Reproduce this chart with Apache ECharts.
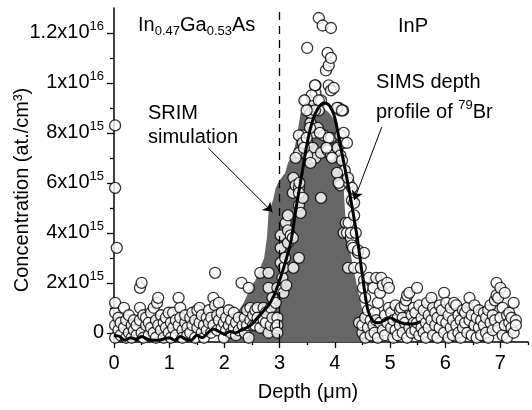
<!DOCTYPE html>
<html><head><meta charset="utf-8">
<script src="https://cdn.jsdelivr.net/npm/echarts@6/dist/echarts.min.js"></script>
<style>html,body{margin:0;padding:0;background:#fff}#c{width:532px;height:410px}</style>
</head><body><div id="c"></div>
<script>
// values in units of 1e15 at./cm3, depth in micrometres
const xTicks = [0, 1, 2, 3, 4, 5, 6, 7];
const xMinorTicks = [0.5, 1.5, 2.5, 3.5, 4.5, 5.5, 6.5, 7.5];
const yTicks = [0, 2, 4, 6, 8, 10, 12];
const yTickMantissa = ['0', '2x10', '4x10', '6x10', '8x10', '1x10', '1.2x10'];
const yTickExponent = ['', '15', '15', '15', '15', '16', '16'];
const yMinorTicks = [1, 3, 5, 7, 9, 11];
const interfaceDepth = 3;

const srimCurve = [[2.0,-0.37],[2.05,0.2],[2.15,0.5],[2.23,0.8],[2.35,1.2],[2.47,1.8],[2.56,2.1],[2.65,2.6],[2.72,3.0],[2.77,3.8],[2.8,4.8],[2.88,5.3],[2.93,5.8],[3.0,6.1],[3.1,6.4],[3.15,6.8],[3.25,7.2],[3.3,7.7],[3.38,8.8],[3.5,8.9],[3.6,8.9],[3.7,9.0],[3.8,9.0],[3.9,8.8],[4.0,8.5],[4.1,7.8],[4.15,6.2],[4.2,4.3],[4.3,3.0],[4.4,1.9],[4.5,0.9],[4.55,0.3],[4.58,-0.37]];

const simsSmooth = [[0.0,-0.1],[0.1,-0.15],[0.2,-0.3],[0.3,-0.2],[0.4,-0.25],[0.5,-0.15],[0.6,-0.25],[0.7,-0.3],[0.8,-0.3],[0.9,-0.25],[1.0,-0.2],[1.1,-0.3],[1.2,-0.15],[1.3,-0.25],[1.4,-0.3],[1.5,-0.1],[1.6,-0.2],[1.7,0.0],[1.8,0.15],[1.9,0.05],[2.0,-0.05],[2.1,0.05],[2.2,0.0],[2.3,0.1],[2.4,0.2],[2.5,0.35],[2.6,0.6],[2.7,0.85],[2.8,1.1],[2.9,1.5],[3.0,2.1],[3.1,2.8],[3.2,3.6],[3.3,5.0],[3.4,6.3],[3.5,7.6],[3.6,8.5],[3.7,9.0],[3.8,9.2],[3.9,9.1],[4.0,8.6],[4.1,7.5],[4.2,6.4],[4.3,5.2],[4.4,3.9],[4.5,2.3],[4.6,0.9],[4.7,0.45],[4.8,0.4],[4.9,0.5],[5.0,0.6],[5.1,0.5],[5.2,0.4],[5.3,0.35],[5.4,0.35],[5.5,0.4],[5.55,0.45]];

const simsBaseLeft = [[0.02,-0.2],[0.02,0.3],[0.02,0.8],[0.02,1.2],[0.05,3.4],[0.02,5.8],[0.02,8.3],
[0.08,0.1],[0.08,0.6],[0.12,-0.1],[0.12,0.4],[0.18,0.2],[0.18,1.0],[0.22,-0.2],[0.22,0.5],[0.27,0.0],[0.27,0.7],[0.32,0.3],[0.32,-0.2],[0.36,0.5],[0.36,0.1],[0.41,-0.1],[0.41,0.3],[0.47,1.0],[0.47,1.8],[0.47,0.5],[0.50,2.0],[0.50,0.0],[0.53,0.7],[0.53,-0.2],[0.58,0.3],[0.58,0.6],[0.63,-0.1],[0.63,0.4],[0.67,0.2],[0.67,0.8],[0.72,1.0],[0.72,0.0],[0.76,0.5],[0.76,-0.2],[0.78,1.2],[0.80,1.4],[0.80,0.3],[0.85,0.1],[0.85,0.7],[0.90,-0.2],[0.90,0.4],[0.94,0.6],[0.94,0.2],[0.99,0.0],[0.99,0.8],[1.03,0.4],[1.03,-0.2],[1.07,0.8],[1.07,0.2],[1.12,0.5],[1.12,-0.1],[1.17,1.4],[1.17,0.3],[1.20,1.0],[1.20,0.6],[1.24,0.1],[1.24,-0.2],[1.29,0.4],[1.29,0.7],[1.33,0.2],[1.33,-0.1],[1.38,0.6],[1.38,0.0],[1.42,0.3],[1.42,0.8],[1.47,-0.2],[1.47,0.5],[1.51,0.2],[1.51,0.9],[1.55,1.0],[1.55,0.4],[1.59,0.0],[1.59,0.7],[1.63,0.3],[1.63,-0.2],[1.68,0.6],[1.68,0.1],[1.72,0.9],[1.72,0.4],[1.76,0.0],[1.76,0.6],[1.80,1.4],[1.80,0.3],[1.83,2.4],[1.83,1.1],[1.87,0.7],[1.87,0.1],[1.90,1.2],[1.90,0.5],[1.95,0.2],[1.95,0.8],[1.99,0.4],[1.99,-0.2],[2.03,0.6],[2.03,0.1],[2.08,0.3],[2.08,0.9],[2.12,0.0],[2.12,0.5],[2.17,0.8],[2.17,0.2],[2.21,0.4],[2.21,-0.1],[2.26,0.6],[2.26,0.1],[2.31,2.0],[2.33,0.3],[2.37,0.6],[2.37,0.0],[2.41,0.9],[2.41,0.3],[2.44,1.8],[2.44,-0.2],[2.47,1.0],[2.47,0.5]];

const simsRise = [[2.52,0.3],[2.52,0.7],[2.56,0.3],[2.56,0.9],[2.60,1.0],[2.60,0.6],[2.65,2.4],[2.65,0.2],[2.71,1.0],[2.71,0.5],[2.75,0.4],[2.75,0.8],[2.80,2.4],[2.80,1.8],[2.80,0.0],[2.84,1.0],[2.84,0.3],[2.87,1.4],[2.87,0.6],[2.93,1.2],[2.93,0.2],[2.96,1.8],[2.96,0.6],[2.96,0.3],[2.96,0.0],[3.02,3.4],[3.02,2.8],[3.02,3.9],[3.05,2.2],[3.07,1.6],[3.07,2.6],[3.10,3.0],[3.12,1.9],[3.11,4.4],[3.15,3.6],[3.15,4.1],[3.15,4.7],[3.20,3.9],[3.24,3.8],[3.24,5.6],[3.25,2.6],[3.25,6.2],[3.29,5.9],[3.35,3.0],[3.35,5.1],[3.35,5.8],[3.38,4.8],[3.36,6.0],[3.35,5.6]];

const simsPeak = [[3.42,5.4],[3.42,7.9],[3.47,9.3],[3.50,7.6],[3.50,11.4],[3.53,9.0],[3.56,7.0],[3.56,8.4],[3.56,8.8],[3.60,7.4],[3.60,9.3],[3.62,8.0],[3.65,7.0],[3.65,9.6],[3.65,9.9],[3.69,8.2],[3.71,8.9],[3.71,12.6],[3.75,7.2],[3.75,9.3],[3.75,5.4],[3.78,12.3],[3.80,7.9],[3.84,10.5],[3.87,7.3],[3.87,11.2],[3.89,10.7],[3.89,9.9],[3.93,7.1],[3.93,7.8],[3.93,9.7],[3.93,11.0],[3.93,12.2],[3.98,9.8],[4.05,7.4],[4.07,9.0],[4.10,7.1],[4.10,7.9],[4.10,8.9],[4.10,5.9],[4.15,8.9],[4.16,7.6],
[3.35,7.9],[3.42,7.6],[3.35,7.2],[3.50,7.1],[3.56,6.8],[3.29,7.0],[3.64,9.9],[3.58,9.5],[3.45,9.3],[3.71,9.3],[3.64,8.9],[3.49,8.9],[4.04,9.0],[4.13,8.9],[3.55,8.2],[3.73,8.0],[3.89,7.8],[4.16,8.0],[4.22,7.6],[3.85,7.4],[3.49,7.8],[3.44,7.4],[3.95,7.0],[4.13,6.9],[4.18,6.5],[4.25,6.0],[4.04,6.4],[4.07,6.0],[4.31,5.8],[4.31,5.3]];

const simsFall = [[4.16,4.0],[4.20,4.4],[4.22,4.0],[4.24,6.2],[4.24,2.6],[4.25,4.4],[4.29,3.8],[4.29,4.0],[4.31,3.5],[4.33,3.4],[4.35,5.2],[4.35,4.7],[4.35,2.6],[4.38,4.0],[4.42,3.2],[4.42,3.3],[4.44,0.4],[4.47,2.6],[4.53,2.1],[4.53,3.2],[4.51,1.8],[4.55,1.4]];

const simsBaseRight = [[4.50,0.0],[4.50,0.3],[4.55,-0.2],[4.55,0.6],[4.60,0.2],[4.60,0.9],[4.62,2.2],[4.65,0.5],[4.65,-0.1],[4.70,1.8],[4.70,0.3],[4.72,0.8],[4.72,0.0],[4.75,2.2],[4.75,0.5],[4.78,-0.2],[4.78,1.2],[4.82,1.6],[4.82,0.4],[4.84,2.2],[4.87,1.9],[4.87,0.1],[4.91,0.7],[4.91,-0.1],[4.95,2.0],[4.95,0.4],[4.98,1.0],[4.98,1.8],[5.02,0.2],[5.02,0.8],[5.06,-0.2],[5.06,0.5],[5.10,1.1],[5.10,0.1],[5.14,0.6],[5.14,-0.1],[5.18,0.9],[5.18,0.3],[5.20,1.0],[5.23,0.0],[5.23,0.6],[5.27,0.4],[5.27,1.1],[5.29,1.3],[5.31,1.5],[5.31,-0.2],[5.35,1.6],[5.35,0.2],[5.39,0.7],[5.39,0.0],[5.43,1.0],[5.43,0.4],[5.46,0.1],[5.46,0.8],[5.49,1.8],[5.49,0.4],[5.53,1.1],[5.53,-0.1],[5.57,0.6],[5.57,0.2],[5.61,0.9],[5.61,0.0],[5.65,0.4],[5.65,-0.2],[5.67,1.2],[5.70,0.7],[5.70,0.2],[5.75,1.4],[5.75,0.5],[5.78,1.0],[5.78,-0.1],[5.82,0.3],[5.82,0.8],[5.86,0.6],[5.86,-0.2],[5.90,1.1],[5.90,0.2],[5.94,0.5],[5.94,0.9],[5.98,1.6],[5.98,0.0],[6.02,1.2],[6.02,0.4],[6.06,0.7],[6.06,-0.2],[6.10,0.2],[6.10,1.0],[6.14,0.5],[6.14,-0.1],[6.16,1.2],[6.20,1.1],[6.20,0.3],[6.24,0.0],[6.24,0.7],[6.28,0.5],[6.28,-0.2],[6.32,0.9],[6.32,0.2],[6.36,0.4],[6.36,0.8],[6.40,0.0],[6.40,1.0],[6.44,1.4],[6.44,0.5],[6.48,0.7],[6.48,-0.1],[6.53,1.1],[6.53,0.3],[6.57,0.6],[6.57,-0.2],[6.61,0.2],[6.61,0.9],[6.65,0.5],[6.65,-0.1],[6.70,0.3],[6.70,0.8],[6.74,0.0],[6.74,0.6],[6.78,0.9],[6.78,-0.2],[6.82,0.4],[6.82,1.1],[6.86,0.1],[6.86,0.7],[6.90,1.3],[6.90,0.5],[6.93,2.0],[6.93,1.5],[6.96,1.4],[6.96,0.2],[7.00,1.8],[7.00,0.6],[7.04,1.0],[7.04,-0.1],[7.08,1.6],[7.08,0.3],[7.12,0.7],[7.12,-0.2],[7.16,0.4],[7.16,0.8],[7.20,0.2],[7.20,0.6],[7.24,1.2],[7.24,0.0],[7.28,0.5],[7.28,0.3]];

const arrowSrim = [[1.71, 7.39], [2.87, 4.83]];
const arrowSims = [[4.85, 8.23], [4.35, 5.31]];

const FONT = "'Liberation Sans', Arial, sans-serif";
const chart = echarts.init(document.getElementById('c'), null, {renderer: 'canvas'});
const sup = {fontSize: 13, lineHeight: 6, verticalAlign: 'top', fontFamily: FONT, color: '#000'};
const sub = {fontSize: 13, lineHeight: 6, verticalAlign: 'bottom', fontFamily: FONT, color: '#000', fill: '#000'};
const main = {fontSize: 20, lineHeight: 26, fontFamily: FONT, color: '#000', fill: '#000'};

const allPoints = simsBaseLeft.concat(simsRise, simsPeak, simsFall, simsBaseRight);

chart.setOption({
  animation: false,
  backgroundColor: '#fff',
  grid: {left: 114, right: 4, top: 8, bottom: 68, containLabel: false},
  xAxis: [{
    type: 'value', min: 0, max: 7.5, position: 'bottom',
    axisLine: {show: true, onZero: false, lineStyle: {color: '#000', width: 1.5}},
    axisTick: {show: true, customValues: xTicks, length: 6, lineStyle: {color: '#000', width: 1.3}},
    axisLabel: {customValues: xTicks, fontSize: 20, fontFamily: FONT, color: '#000', margin: 11},
    splitLine: {show: false}
  }, {
    type: 'value', min: 0, max: 7.5, position: 'bottom',
    axisLine: {show: false, onZero: false},
    axisTick: {show: true, customValues: xMinorTicks, length: 3, lineStyle: {color: '#000', width: 1.3}},
    axisLabel: {show: false}, splitLine: {show: false}
  }],
  yAxis: [{
    type: 'value', min: -0.37, max: 13, position: 'left',
    axisLine: {show: true, onZero: false, lineStyle: {color: '#000', width: 1.5}},
    axisTick: {show: true, customValues: yTicks, length: 7, lineStyle: {color: '#000', width: 1.3}},
    axisLabel: {
      customValues: yTicks, margin: 10,
      formatter: function (v) {
        const i = yTicks.indexOf(Math.round(v));
        if (i < 0) return '';
        return yTickExponent[i] ? '{m|' + yTickMantissa[i] + '}{s|' + yTickExponent[i] + '}' : '{m|' + yTickMantissa[i] + '}';
      },
      rich: {m: main, s: sup}
    },
    splitLine: {show: false}
  }, {
    type: 'value', min: -0.37, max: 13, position: 'left',
    axisLine: {show: false, onZero: false},
    axisTick: {show: true, customValues: yMinorTicks, length: 4, lineStyle: {color: '#000', width: 1.3}},
    axisLabel: {show: false}, splitLine: {show: false}
  }],
  series: [{
    name: 'SRIM simulation', type: 'line', data: srimCurve, symbol: 'none', z: 1,
    lineStyle: {width: 0}, areaStyle: {color: '#666666', opacity: 1, origin: 'start'},
    markLine: {
      silent: true, symbol: 'none', label: {show: false},
      lineStyle: {color: '#000', width: 1.3, type: [8, 6]},
      data: [{xAxis: interfaceDepth}]
    }
  }, {
    name: 'SIMS', type: 'scatter', data: allPoints, z: 3,
    symbol: 'circle', symbolSize: 11,
    itemStyle: {color: '#fff', borderColor: '#000', borderWidth: 1.3}
  }, {
    name: 'SIMS smooth', type: 'line', data: simsSmooth, smooth: 0.3, symbol: 'none', z: 4,
    lineStyle: {color: '#000', width: 3},
    markLine: {
      silent: true, symbol: ['none', 'arrow'], symbolSize: 9, label: {show: false},
      lineStyle: {color: '#000', width: 1, type: 'solid'},
      data: [[{coord: arrowSrim[0]}, {coord: arrowSrim[1]}], [{coord: arrowSims[0]}, {coord: arrowSims[1]}]]
    }
  }],
  graphic: [
    {type: 'text', x: 22, y: 190, rotation: Math.PI / 2,
     style: {text: 'Concentration (at./cm³)', fontSize: 20, fontFamily: FONT, fill: '#000', align: 'center', verticalAlign: 'middle'}},
    {type: 'text', x: 308, y: 392,
     style: {text: 'Depth (\u03bcm)', fontSize: 20, fontFamily: FONT, fill: '#000', align: 'center', verticalAlign: 'middle'}},
    {type: 'text', x: 138, y: 25,
     style: {text: '{m|In}{s|0.47}{m|Ga}{s|0.53}{m|As}', align: 'left', verticalAlign: 'middle', rich: {m: main, s: sub}}},
    {type: 'text', x: 398, y: 26,
     style: {text: 'InP', fontSize: 20, fontFamily: FONT, fill: '#000', align: 'left', verticalAlign: 'middle'}},
    {type: 'text', x: 148, y: 113,
     style: {text: 'SRIM', fontSize: 20, fontFamily: FONT, fill: '#000', align: 'left', verticalAlign: 'middle'}},
    {type: 'text', x: 148, y: 137,
     style: {text: 'simulation', fontSize: 20, fontFamily: FONT, fill: '#000', align: 'left', verticalAlign: 'middle'}},
    {type: 'text', x: 376, y: 82,
     style: {text: 'SIMS depth', fontSize: 20, fontFamily: FONT, fill: '#000', align: 'left', verticalAlign: 'middle'}},
    {type: 'text', x: 376, y: 112,
     style: {text: '{m|profile of }{s|79}{m|Br}', align: 'left', verticalAlign: 'middle', rich: {m: main, s: Object.assign({}, sup, {fill: '#000'})}}}
  ]
});
</script></body></html>
